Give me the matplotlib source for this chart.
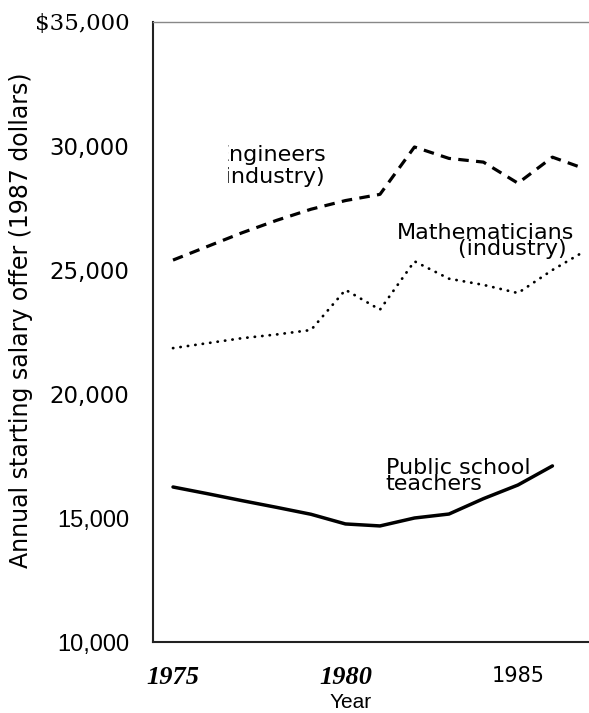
import numpy as np
import matplotlib
matplotlib.use('agg')
import matplotlib.pyplot as plt
from matplotlib.transforms import Bbox, TransformedBbox

# values (1987 dollars)
eng_years = [1975, 1976, 1977, 1978, 1979, 1980, 1981, 1982, 1983, 1984, 1985, 1986, 1986.8]
eng_salary = [25400, 25950, 26500, 27000, 27450, 27800, 28050, 29960, 29500, 29350, 28500, 29550, 29150]

math_years = [1975, 1976, 1977, 1978, 1979, 1980, 1981, 1982, 1983, 1984, 1985, 1986, 1986.8]
math_salary = [21850, 22050, 22250, 22400, 22580, 24200, 23400, 25350, 24650, 24400, 24070, 25000, 25650]

teach_years = [1975, 1976, 1977, 1978, 1979, 1980, 1981, 1982, 1983, 1984, 1985, 1986]
teach_salary = [16250, 15980, 15700, 15430, 15150, 14760, 14680, 15000, 15160, 15780, 16330, 17100]

y_ticks = [10000, 15000, 20000, 25000, 30000, 35000]
y_labels = ['10,000', '15,000', '20,000', '25,000', '30,000', '$35,000']
x_ticks = [1975, 1980, 1985]
x_labels = ['1975', '1980', '1985']

fig = plt.figure(figsize=(5.89, 7.13), dpi=100)
ax = fig.add_axes([153/589, 71/713, 436/589, 620/713])

ax.plot(eng_years, eng_salary, color='black', lw=2.3, linestyle=(0, (3.3, 2.3)))
ax.plot(math_years, math_salary, color='black', lw=2.0, linestyle=(0, (0.1, 2.6)),
        dash_capstyle='round')
ax.plot(teach_years, teach_salary, color='black', lw=2.5, solid_capstyle='round')

ax.set_xlim(1974.42, 1987.06)
ax.set_ylim(10000, 35000)

# spines
ax.spines['right'].set_visible(False)
ax.spines['left'].set_color('#222222')
ax.spines['left'].set_linewidth(1.5)
ax.spines['bottom'].set_color('#222222')
ax.spines['bottom'].set_linewidth(1.5)
ax.spines['top'].set_color('#888888')
ax.spines['top'].set_linewidth(1.0)

ax.set_yticks(y_ticks)
ax.set_yticklabels(y_labels)
ax.tick_params(axis='y', length=0, pad=17)
ax.set_xticks(x_ticks)
ax.set_xticklabels(x_labels)
ax.tick_params(axis='x', length=0, pad=17)

# the scanned labels come in several typefaces
ylab_fonts = [('Liberation Sans', 'normal', 'normal', 17),
              ('Liberation Sans', 'normal', 'normal', 17),
              ('DejaVu Sans', 'normal', 'normal', 16.5),
              ('DejaVu Sans', 'normal', 'normal', 16.5),
              ('DejaVu Sans', 'normal', 'normal', 16.5),
              ('DejaVu Serif', 'normal', 'normal', 16.5)]
for lab, (fam, wt, st, sz) in zip(ax.get_yticklabels(), ylab_fonts):
    lab.set_family(fam)
    lab.set_weight(wt)
    lab.set_style(st)
    lab.set_fontsize(sz)

xlab_fonts = [('Liberation Serif', 'bold', 'italic', 19),
              ('Liberation Serif', 'bold', 'italic', 19),
              ('DejaVu Sans', 'normal', 'normal', 15)]
for lab, (fam, wt, st, sz) in zip(ax.get_xticklabels(), xlab_fonts):
    lab.set_family(fam)
    lab.set_weight(wt)
    lab.set_style(st)
    lab.set_fontsize(sz)

ax.set_xlabel('Year', family='Liberation Sans', fontsize=15)
ax.xaxis.set_label_coords(0.454, -0.083)
ax.set_ylabel('Annual starting salary offer (1987 dollars)', family='DejaVu Sans', fontsize=17)
ax.yaxis.set_label_coords(-0.275, 0.519)

# series labels (y = baseline of the last line)
clip = TransformedBbox(Bbox([[1976.6, 20000], [1987, 32000]]), ax.transData)
t_eng = ax.text(1976.25, 28508, 'Engineers\n(industry)', family='DejaVu Sans',
                fontsize=16, va='baseline', linespacing=1.1)
t_eng.set_clip_box(clip)
t_eng.set_clip_on(True)

ax.text(1986.62, 25605, 'Mathematicians\n(industry) ', family='DejaVu Sans',
        fontsize=16, va='baseline', ha='right', multialignment='right',
        linespacing=0.77)

ax.text(1981.17, 16130, 'Public school\nteachers', family='DejaVu Sans',
        fontsize=16, va='baseline', linespacing=0.77)

fig.savefig('out.png', dpi=100)
